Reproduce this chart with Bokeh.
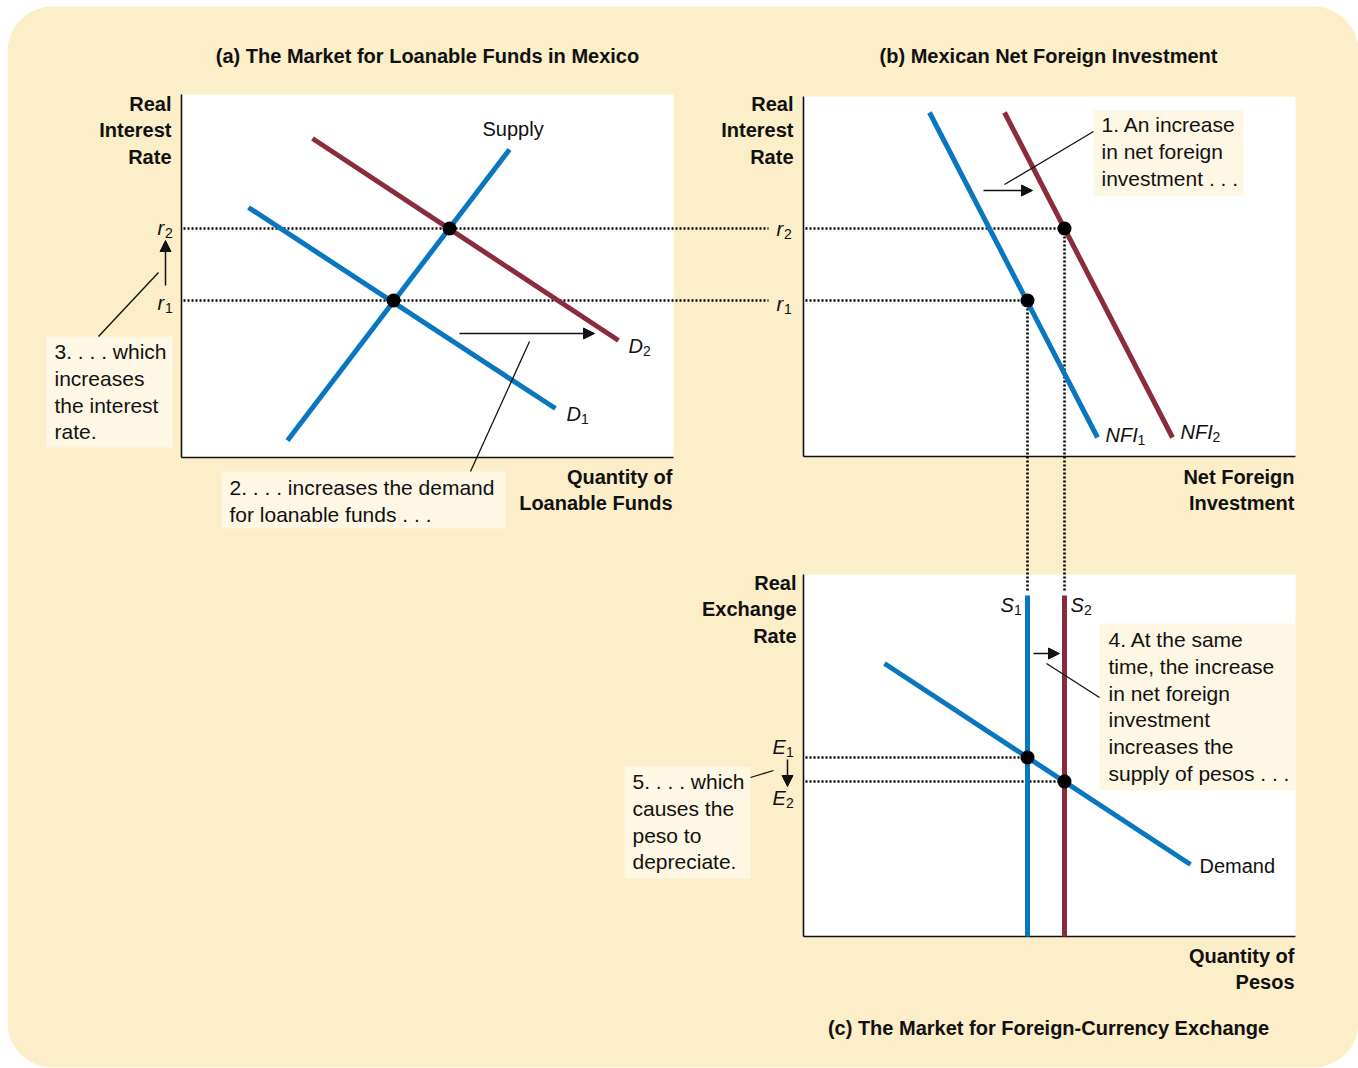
from bokeh.plotting import figure
from bokeh.models import Range1d, BoxAnnotation, Arrow, NormalHead, ColumnDataSource
from bokeh.core.properties import value
from bokeh.embed import file_html
from bokeh.resources import INLINE

BLUE = "#0877BF"
MAROON = "#8B2C3C"
BG = "#FBEEC8"
BOX = "#FEF7E4"
INK = "#111111"
FONT = "Liberation Sans"

W, H = 1358, 1068

# ---------------- data (page-pixel diagram coordinates) ----------------
# panel frames: (a) loanable funds, (b) net foreign investment, (c) FX market
panel_left = [181, 803, 803]
panel_right = [673, 1295, 1295]
panel_top = [94, 96, 574]
panel_bottom = [457, 456, 936]

# (a) market for loanable funds
supply_x = [287, 509]
supply_y = [440, 149]
d1_x = [248, 555]
d1_y = [207, 408]
d2_x = [312, 618]
d2_y = [138, 340]
eq_a_x = [393, 449]          # equilibria at r1, r2
r_levels = [300, 228]        # r1, r2

# (b) net foreign investment
nfi1_x = [929, 1097]
nfi1_y = [112, 437]
nfi2_x = [1004, 1172]
nfi2_y = [112, 437]
eq_b_x = [1027, 1064]        # NFI1 at r1, NFI2 at r2

# (c) foreign-currency exchange
supply_pesos_x = [1027, 1064]   # S1, S2 (vertical)
supply_pesos_top = [595, 595]
demand_x = [884, 1190]
demand_y = [663, 864]
e_levels = [757, 781]           # E1, E2

# texts
titles = ["(a) The Market for Loanable Funds in Mexico",
          "(b) Mexican Net Foreign Investment",
          "(c) The Market for Foreign-Currency Exchange"]
title_x = [427, 1048, 1048]
title_y = [55, 55, 1027]

ylab_a = ["Real", "Interest", "Rate"]
ylab_b = ["Real", "Interest", "Rate"]
ylab_c = ["Real", "Exchange", "Rate"]
xlab_a = ["Quantity of", "Loanable Funds"]
xlab_b = ["Net Foreign", "Investment"]
xlab_c = ["Quantity of", "Pesos"]

note1 = ["1. An increase", "in net foreign", "investment . . ."]
note2 = ["2. . . . increases the demand", "for loanable funds . . ."]
note3 = ["3. . . . which", "increases", "the interest", "rate."]
note4 = ["4. At the same", "time, the increase", "in net foreign", "investment",
         "increases the", "supply of pesos . . ."]
note5 = ["5. . . . which", "causes the", "peso to", "depreciate."]

# note boxes [left, right, top, bottom]
note_box_l = [1093, 221, 46, 1099, 624]
note_box_r = [1243, 505, 172, 1295, 750]
note_box_t = [110, 471, 336, 623, 766]
note_box_b = [195, 528, 447, 790, 878]

sub_base = ["r", "r", "r", "r", "D", "D", "NFI", "NFI", "S", "S", "E", "E"]
sub_idx = ["2", "1", "2", "1", "2", "1", "1", "2", "1", "2", "1", "2"]
sub_lx = [157, 157, 776, 776, 628, 566, 1105, 1180, 1000, 1070, 772, 772]
sub_ly = [227, 302, 228, 303, 345, 413, 434, 431, 604, 604, 746, 797]
sub_w = {"r": 7.5, "D": 14.5, "NFI": 32, "S": 13.5, "E": 13.5}

# leader lines and arrows
lead_x0 = [1093, 529, 158, 1046, 750]
lead_y0 = [131, 341, 272, 663, 777]
lead_x1 = [1004, 470, 98, 1099, 773]
lead_y1 = [184, 471, 336, 697, 770]

arr_x0 = [459, 983, 1033, 165, 787]
arr_y0 = [333, 190, 653, 285, 759]
arr_x1 = [594, 1032, 1059, 165, 787]
arr_y1 = [333, 190, 653, 240, 786]

# ---------------- figure ----------------
p = figure(width=W, height=H, x_range=Range1d(0, W), y_range=Range1d(H, 0),
           x_axis_type=None, y_axis_type=None, toolbar_location=None,
           output_backend="svg", min_border=0, outline_line_color=None,
           background_fill_color="white", border_fill_color="white")

p.add_layout(BoxAnnotation(left=7, right=1358, top=6, bottom=1067, fill_color=BG,
                           fill_alpha=1, line_color=None, border_radius=45,
                           level="underlay"))

# white panels
p.quad(left=panel_left, right=panel_right, top=panel_top, bottom=panel_bottom,
       fill_color="white", line_color=None)
# axes (left + bottom)
p.segment(x0=panel_left, y0=panel_top, x1=panel_left, y1=panel_bottom,
          line_color=INK, line_width=1.6)
p.segment(x0=panel_left, y0=panel_bottom, x1=panel_right, y1=panel_bottom,
          line_color=INK, line_width=1.6)

# note boxes
p.quad(left=note_box_l, right=note_box_r, top=note_box_t, bottom=note_box_b,
       fill_color=BOX, line_color=None)

DOT = "2 2"
DW = 2.6
# dotted guides: r levels from (a) across to (b)
p.segment(x0=[183] * 2, y0=r_levels, x1=[768] * 2, y1=r_levels,
          line_color="black", line_width=DW, line_dash=DOT)
p.segment(x0=[805] * 2, y0=r_levels, x1=eq_b_x, y1=r_levels,
          line_color="black", line_width=DW, line_dash=DOT)
# vertical from (b) down into (c)
p.segment(x0=eq_b_x, y0=r_levels, x1=eq_b_x, y1=[592, 592],
          line_color="black", line_width=DW, line_dash=DOT)
# E levels in (c)
p.segment(x0=[805] * 2, y0=e_levels, x1=supply_pesos_x, y1=e_levels,
          line_color="black", line_width=DW, line_dash=DOT)

# curves
LW = 5
p.line(d1_x, d1_y, line_color=BLUE, line_width=LW)
p.line(supply_x, supply_y, line_color=BLUE, line_width=LW)
p.line(d2_x, d2_y, line_color=MAROON, line_width=LW)
p.line(nfi1_x, nfi1_y, line_color=BLUE, line_width=LW)
p.line(nfi2_x, nfi2_y, line_color=MAROON, line_width=LW)
p.segment(x0=supply_pesos_x, y0=supply_pesos_top, x1=supply_pesos_x,
          y1=[panel_bottom[2]] * 2, line_color=[BLUE, MAROON], line_width=LW)
p.line(demand_x, demand_y, line_color=BLUE, line_width=LW)

# equilibrium points
p.scatter(eq_a_x, r_levels, size=14, fill_color="black", line_color=None)
p.scatter(eq_b_x, r_levels, size=14, fill_color="black", line_color=None)
p.scatter(supply_pesos_x, e_levels, size=14, fill_color="black", line_color=None)

# leader lines
p.segment(x0=lead_x0, y0=lead_y0, x1=lead_x1, y1=lead_y1, line_color=INK, line_width=1.3)

# arrows
asrc = ColumnDataSource(dict(x0=arr_x0, y0=arr_y0, x1=arr_x1, y1=arr_y1))
p.add_layout(Arrow(source=asrc, x_start="x0", y_start="y0", x_end="x1", y_end="y1",
                   line_color=INK, line_width=1.5,
                   end=NormalHead(size=11, fill_color=INK, line_color=INK)))


def txt(xs, ys, texts, size, style="normal", align="left"):
    p.text(x=xs, y=ys, text=texts, text_font=value(FONT), text_font_size=size,
           text_font_style=style, text_align=align, text_baseline="middle",
           text_color=INK)


# titles
txt(title_x, title_y, titles, "20px", "bold", "center")

# axis labels
LH = 26.5
txt([171] * 3, [103, 103 + LH, 103 + 2 * LH], ylab_a, "20px", "bold", "right")
txt([793] * 3, [103, 103 + LH, 103 + 2 * LH], ylab_b, "20px", "bold", "right")
txt([796] * 3, [582, 582 + LH, 582 + 2 * LH], ylab_c, "20px", "bold", "right")
txt([672] * 2, [476, 476 + LH], xlab_a, "20px", "bold", "right")
txt([1294] * 2, [476, 476 + LH], xlab_b, "20px", "bold", "right")
txt([1294] * 2, [955, 955 + LH], xlab_c, "20px", "bold", "right")

# notes
for lines, bx, y0 in [(note1, 1101, 124), (note2, 229, 487), (note3, 54, 351),
                      (note4, 1108, 639), (note5, 632, 781)]:
    txt([bx] * len(lines), [y0 + i * 26.8 for i in range(len(lines))], lines, "21px")

# curve labels
txt([482], [128], ["Supply"], "20px")
txt([1199], [865], ["Demand"], "20px")
txt(sub_lx, sub_ly, sub_base, "20px", "italic")
txt([x + sub_w[b] for x, b in zip(sub_lx, sub_base)], [y + 5 for y in sub_ly],
    sub_idx, "14px")

open("out.html", "w").write(file_html(p, INLINE))
